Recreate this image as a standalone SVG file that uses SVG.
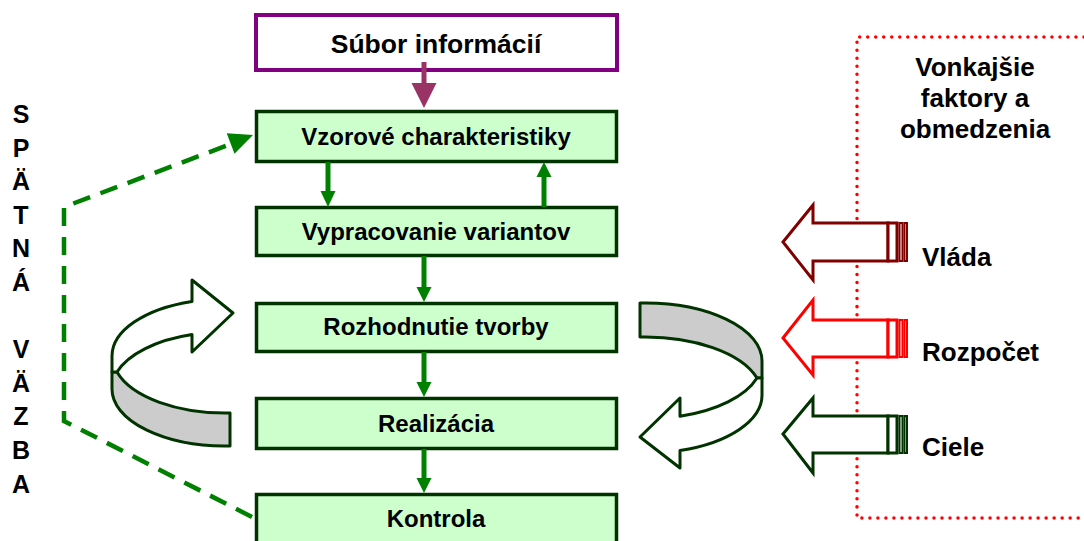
<svg xmlns="http://www.w3.org/2000/svg" width="1084" height="541" viewBox="0 0 1084 541">
<style>
text{font-family:"Liberation Sans",Arial,sans-serif;font-weight:bold;fill:#000}
.box{fill:#ccffcc;stroke:#003300;stroke-width:3.5}
.lbl{font-size:24px;text-anchor:middle}
.side{font-size:26px}
.vert{font-size:25px;text-anchor:middle}
.g{stroke:#008000;stroke-width:5;fill:none}
.gh{fill:#008000}
.curve{stroke:#003300;stroke-width:3;stroke-linejoin:round}
.blk{fill:#fff;stroke-width:3;stroke-linejoin:miter}
</style>
<rect width="1084" height="541" fill="#fff"/>

<g id="external-frame">
<path d="M1084,37 H857 V518 H1084" fill="none" stroke="#ff0000" stroke-width="3.5" stroke-dasharray="0.01 8" stroke-linecap="round"/>
<text class="side" x="975" y="76" text-anchor="middle">Vonkajšie</text>
<text class="side" x="975" y="107" text-anchor="middle">faktory a</text>
<text class="side" x="975" y="138" text-anchor="middle">obmedzenia</text>
</g>

<g id="feedback-label">
<text class="vert" x="21" y="123">S</text>
<text class="vert" x="21" y="157">P</text>
<text class="vert" x="21" y="190">Ä</text>
<text class="vert" x="21" y="224">T</text>
<text class="vert" x="21" y="257">N</text>
<text class="vert" x="21" y="291">Á</text>
<text class="vert" x="21" y="358">V</text>
<text class="vert" x="21" y="392">Ä</text>
<text class="vert" x="21" y="425">Z</text>
<text class="vert" x="21" y="459">B</text>
<text class="vert" x="21" y="493">A</text>
</g>

<g id="node-subor">
<rect x="256" y="15" width="361" height="55" fill="#fff" stroke="#800080" stroke-width="4"/>
<text x="436" y="53" text-anchor="middle" font-size="26.5">Súbor informácií</text>
</g>
<g id="node-vzorove">
<rect class="box" x="256.5" y="111.5" width="360" height="50"/>
<text class="lbl" x="436" y="145">Vzorové charakteristiky</text>
</g>
<g id="node-vypracovanie">
<rect class="box" x="256.5" y="207.5" width="360" height="48"/>
<text class="lbl" x="436" y="240">Vypracovanie variantov</text>
</g>
<g id="node-rozhodnutie">
<rect class="box" x="256.5" y="303.5" width="360" height="48"/>
<text class="lbl" x="436" y="335">Rozhodnutie tvorby</text>
</g>
<g id="node-realizacia">
<rect class="box" x="256.5" y="398.5" width="360" height="50"/>
<text class="lbl" x="436" y="432">Realizácia</text>
</g>
<g id="node-kontrola">
<rect class="box" x="256.5" y="494.5" width="360" height="52"/>
<text class="lbl" x="436" y="527">Kontrola</text>
</g>

<g id="cycle-left">
<path class="curve" fill="#cccccc" d="M117,372 A113,57 0 0 0 230,413 L230,446 A113,57 0 0 1 112,389 L112,372 Z"/>
<path class="curve" fill="#ffffff" d="M112,372 L112,356 A113,57 0 0 1 192,301.5 L192,280 L233,313 L192,352 L192,334.5 A113,57 0 0 0 117,372 Z"/>
</g>
<g id="cycle-right">
<path class="curve" fill="#cccccc" d="M640,303 A117,58 0 0 1 762,361 L762,378 L757,378 A117,58 0 0 0 640,337 Z"/>
<path class="curve" fill="#ffffff" d="M762,378 L762,395 A117,58 0 0 1 680,450.5 L680,468 L640,437 L680,398 L680,416.3 A117,58 0 0 0 757,378 Z"/>
</g>

<g id="factor-vlada">
<g class="blk" stroke="#800000">
<polygon points="783,242 813,205 813,223 888,223 888,261 813,261 813,280"/>
<rect x="888" y="223" width="9" height="38"/>
<rect x="899.5" y="223" width="3" height="38" stroke-width="2"/>
<rect x="904.5" y="223" width="2.5" height="38" stroke-width="2"/>
</g>
<text class="side" x="922" y="266">Vláda</text>
</g>
<g id="factor-rozpocet">
<g class="blk" stroke="#ff0000">
<polygon points="783,338 813,300 813,320 888,320 888,357 813,357 813,375"/>
<rect x="888" y="320" width="9" height="37"/>
<rect x="899.5" y="320" width="3" height="37" stroke-width="2"/>
<rect x="904.5" y="320" width="2.5" height="37" stroke-width="2"/>
</g>
<text class="side" x="922" y="361">Rozpočet</text>
</g>
<g id="factor-ciele">
<g class="blk" stroke="#003300">
<polygon points="783,434 813,398 813,416 888,416 888,453 813,453 813,473"/>
<rect x="888" y="416" width="9" height="37"/>
<rect x="899.5" y="416" width="3" height="37" stroke-width="2"/>
<rect x="904.5" y="416" width="2.5" height="37" stroke-width="2"/>
</g>
<text class="side" x="922" y="456">Ciele</text>
</g>

<g id="connectors">
<line x1="424" y1="62" x2="424" y2="84" stroke="#993366" stroke-width="5"/>
<polygon points="411.5,83 436.5,83 424,108" fill="#993366"/>

<line class="g" x1="328" y1="162" x2="328" y2="192"/>
<polygon class="gh" points="320.5,191 335.5,191 328,207"/>
<line class="g" x1="544" y1="207" x2="544" y2="176"/>
<polygon class="gh" points="536.5,177 551.5,177 544,162"/>
<line class="g" x1="424" y1="256" x2="424" y2="288"/>
<polygon class="gh" points="416.5,287 431.5,287 424,302"/>
<line class="g" x1="424" y1="352" x2="424" y2="383"/>
<polygon class="gh" points="416.5,382 431.5,382 424,397"/>
<line class="g" x1="424" y1="449" x2="424" y2="479"/>
<polygon class="gh" points="416.5,478 431.5,478 424,493"/>

<path d="M252,517 L64,421 L64,207 L231,144" fill="none" stroke="#008000" stroke-width="4.5" stroke-dasharray="18 11"/>
<polygon class="gh" points="253,135 226.7,133.2 234.5,153.8"/>
</g>
</svg>
